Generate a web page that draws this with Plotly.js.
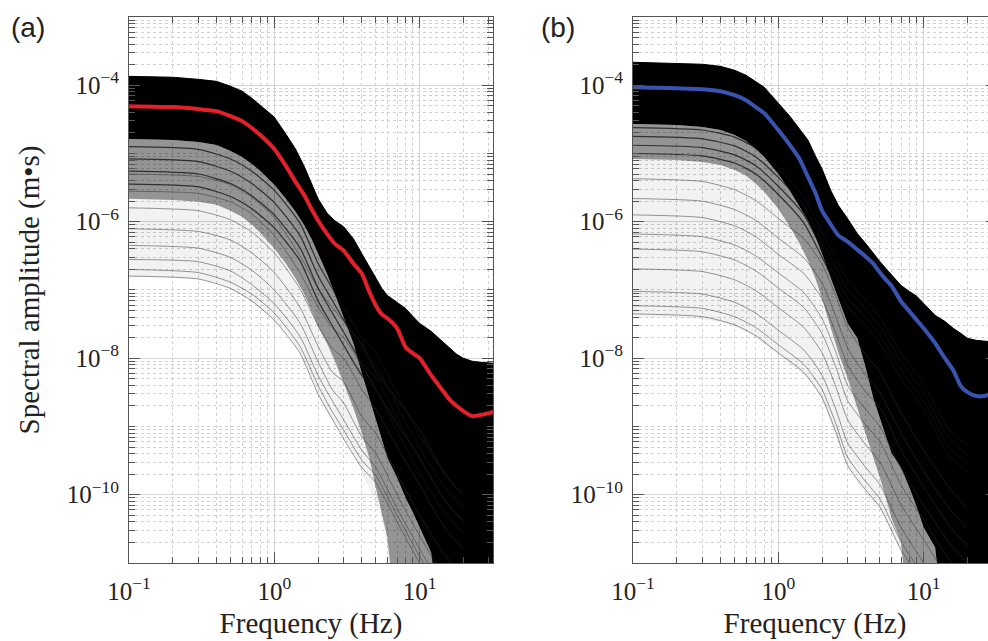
<!DOCTYPE html>
<html>
<head>
<meta charset="utf-8">
<script src="https://cdn.plot.ly/plotly-3.0.1.min.js"></script>
<style>
  html, body { margin: 0; padding: 0; background: #ffffff; overflow: hidden; }
  #chart { width: 1000px; height: 641px; }
</style>
</head>
<body>
<div id="chart"></div>
<script>
// ---------- shared frequency grids (Hz) ----------
const freq = [0.1, 0.2, 0.3, 0.4, 0.5, 0.6, 0.7, 0.8, 1.0, 1.2, 1.4, 1.6, 1.8, 2.0, 2.3, 2.6, 3.0, 3.5, 4.0, 4.5, 5.0, 5.5, 6.0, 7.0, 8.0, 9.0, 10, 12, 14, 16, 18, 20, 23, 26, 30, 32];
const fLine = [0.1, 0.3, 0.5, 0.7, 1, 1.5, 2, 2.5, 3, 4, 5, 7, 10, 15, 20];

// ---------- panel (a) ----------
const aMean   = [4.93e-5, 4.78e-5, 4.47e-5, 4.17e-5, 3.52e-5, 2.98e-5, 2.36e-5, 1.86e-5, 1.16e-5, 6.58e-6, 3.84e-6, 2.48e-6, 1.55e-6, 1.04e-6, 6.68e-7, 4.78e-7, 3.78e-7, 2.44e-7, 1.74e-7, 9.51e-8, 5.94e-8, 4.39e-8, 3.84e-8, 2.74e-8, 1.45e-8, 1.18e-8, 1.00e-8, 5.65e-9, 3.65e-9, 2.52e-9, 1.99e-9, 1.68e-9, 1.42e-9, 1.47e-9, 1.57e-9, 1.63e-9];
const aUpper  = [1.35e-4, 1.31e-4, 1.22e-4, 1.14e-4, 9.66e-5, 8.17e-5, 6.46e-5, 5.11e-5, 3.41e-5, 1.93e-5, 1.16e-5, 6.58e-6, 3.59e-6, 2.17e-6, 1.35e-6, 1.04e-6, 8.45e-7, 5.65e-7, 3.41e-7, 2.20e-7, 1.47e-7, 1.05e-7, 8.32e-8, 6.58e-8, 5.37e-8, 4.10e-8, 3.24e-8, 2.48e-8, 1.83e-8, 1.40e-8, 1.14e-8, 1.00e-8, 9.04e-9, 8.75e-9, 8.45e-9, 8.45e-9];
const aDense  = [1.63e-5, 1.57e-5, 1.47e-5, 1.33e-5, 1.09e-5, 8.89e-6, 7.03e-6, 5.56e-6, 3.47e-6, 2.17e-6, 1.40e-6, 9.04e-7, 5.65e-7, 3.41e-7, 1.74e-7, 8.89e-8, 3.84e-8, 1.66e-8, 6.04e-9, 2.61e-9, 1.33e-9, 6.79e-10, 3.47e-10, 1.77e-10, 9.04e-11, 5.46e-11, 3.30e-11, 1.42e-11, 1e-12, 1e-12, 1e-12, 1e-12, 1e-12, 1e-12, 1e-12, 1e-12];
const aMid    = [2.17e-6, 2.09e-6, 1.96e-6, 1.77e-6, 1.45e-6, 1.18e-6, 9.04e-7, 6.90e-7, 4.04e-7, 2.44e-7, 1.47e-7, 8.89e-8, 5.02e-8, 2.93e-8, 1.66e-8, 9.35e-9, 4.32e-9, 1.86e-9, 8.04e-10, 3.47e-10, 1.26e-10, 5.46e-11, 2.35e-11, 1e-12, 1e-12, 1e-12, 1e-12, 1e-12, 1e-12, 1e-12, 1e-12, 1e-12, 1e-12, 1e-12, 1e-12, 1e-12];
const aLowest = [1.57e-7, 1.52e-7, 1.42e-7, 1.29e-7, 1.05e-7, 8.59e-8, 6.79e-8, 5.37e-8, 3.59e-8, 2.32e-8, 1.50e-8, 9.35e-9, 5.46e-9, 3.08e-9, 1.57e-9, 1.12e-9, 6.79e-10, 4.10e-10, 2.09e-10, 1.26e-10, 7.64e-11, 4.61e-11, 1.68e-11, 1e-12, 1e-12, 1e-12, 1e-12, 1e-12, 1e-12, 1e-12, 1e-12, 1e-12, 1e-12, 1e-12, 1e-12, 1e-12];
const aDark1 = [1.26e-5, 1.15e-5, 8.32e-6, 5.50e-6, 2.88e-6, 9.55e-7, 2.45e-7, 1.07e-7, 5.50e-8, 2.00e-8, 1.20e-8, 3.09e-9, 7.41e-10, 1.91e-10, 9.77e-11];
const aDark2 = [8.32e-6, 7.59e-6, 5.50e-6, 3.63e-6, 1.91e-6, 6.31e-7, 1.62e-7, 7.08e-8, 3.63e-8, 1.32e-8, 7.94e-9, 2.04e-9, 4.90e-10, 1.26e-10, 6.46e-11];
const aDark3 = [5.50e-6, 5.01e-6, 3.63e-6, 2.40e-6, 1.26e-6, 4.17e-7, 1.07e-7, 4.68e-8, 2.40e-8, 8.71e-9, 5.25e-9, 1.35e-9, 3.24e-10, 8.32e-11, 4.27e-11];
const aDark4 = [3.55e-6, 3.24e-6, 2.34e-6, 1.55e-6, 8.13e-7, 2.69e-7, 6.92e-8, 3.02e-8, 1.55e-8, 5.62e-9, 3.39e-9, 8.71e-10, 2.09e-10, 5.37e-11, 2.75e-11];
const aLine1 = [5.0e-6, 4.6e-6, 3.5e-6, 2.3e-6, 1.15e-6, 3.2e-7, 1.05e-7, 5.6e-8, 3.5e-8, 1.6e-8, 6.3e-9, 2.5e-9, 8.9e-10, 2.0e-10, 1.0e-10];
const aLine2 = [2.8e-6, 2.6e-6, 1.95e-6, 1.3e-6, 6.3e-7, 1.8e-7, 5.6e-8, 2.8e-8, 2.0e-8, 7.9e-9, 3.5e-9, 1.1e-9, 3.5e-10, 8e-11, 4e-11];
const aLine3 = [1.6e-6, 1.45e-6, 1.07e-6, 7.1e-7, 3.5e-7, 1.05e-7, 3.0e-8, 1.4e-8, 1.0e-8, 3.5e-9, 1.8e-9, 5.0e-10, 1.4e-10, 3.2e-11, 1.6e-11];
const aLine4 = [7.9e-7, 7.2e-7, 5.4e-7, 3.5e-7, 1.8e-7, 5.6e-8, 1.5e-8, 6.3e-9, 4.5e-9, 1.4e-9, 7.9e-10, 2.0e-10, 5.0e-11, 1.3e-11, 6e-12];
const aLine5 = [4.5e-7, 4.1e-7, 3.0e-7, 1.95e-7, 1.0e-7, 3.3e-8, 8.9e-9, 3.5e-9, 2.2e-9, 7.1e-10, 4.0e-10, 1.0e-10, 2.5e-11, 6e-12, 3e-12];
const aLine6 = [2.8e-7, 2.6e-7, 1.9e-7, 1.2e-7, 6.3e-8, 2.1e-8, 5.6e-9, 2.4e-9, 1.26e-9, 4.5e-10, 2.5e-10, 6.3e-11, 1.6e-11, 4e-12, 2e-12];
const aLine7 = [2.0e-7, 1.8e-7, 1.3e-7, 8.7e-8, 4.6e-8, 1.5e-8, 4.0e-9, 1.66e-9, 8.9e-10, 3.2e-10, 1.9e-10, 5.0e-11, 1.26e-11, 3e-12, 1.5e-12];
const aLine8 = [1.6e-7, 1.45e-7, 1.05e-7, 6.9e-8, 3.6e-8, 1.2e-8, 3.0e-9, 1.3e-9, 6.6e-10, 2.5e-10, 1.5e-10, 4.0e-11, 1.0e-11, 2.5e-12, 1.3e-12];

// ---------- panel (b) ----------
const bMean   = [9.35e-5, 9.04e-5, 8.75e-5, 8.17e-5, 7.14e-5, 6.04e-5, 4.78e-5, 3.90e-5, 2.20e-5, 1.33e-5, 8.32e-6, 4.54e-6, 2.65e-6, 1.45e-6, 9.04e-7, 6.25e-7, 5.11e-7, 3.90e-7, 3.08e-7, 2.44e-7, 1.80e-7, 1.42e-7, 1.16e-7, 6.79e-8, 4.85e-8, 3.59e-8, 2.74e-8, 1.66e-8, 1.00e-8, 6.68e-9, 3.90e-9, 3.19e-9, 2.79e-9, 2.79e-9, 3.08e-9, 3.08e-9];
const bUpper  = [2.17e-4, 2.09e-4, 2.03e-4, 1.89e-4, 1.66e-4, 1.40e-4, 1.14e-4, 9.35e-5, 5.46e-5, 3.52e-5, 2.28e-5, 1.57e-5, 9.20e-6, 5.94e-6, 2.84e-6, 1.71e-6, 1.11e-6, 6.68e-7, 4.78e-7, 3.41e-7, 2.61e-7, 2.06e-7, 1.68e-7, 1.16e-7, 9.51e-8, 8.04e-8, 6.35e-8, 4.25e-8, 3.47e-8, 2.74e-8, 2.32e-8, 1.96e-8, 1.83e-8, 1.77e-8, 1.71e-8, 1.71e-8];
const bDense  = [2.70e-5, 2.61e-5, 2.44e-5, 2.20e-5, 1.86e-5, 1.52e-5, 1.16e-5, 8.89e-6, 5.02e-6, 2.84e-6, 1.66e-6, 1.04e-6, 6.04e-7, 3.41e-7, 1.47e-7, 7.52e-8, 3.24e-8, 1.96e-8, 7.14e-9, 2.61e-9, 1.33e-9, 6.79e-10, 4.10e-10, 2.48e-10, 1.26e-10, 6.46e-11, 3.30e-11, 1.68e-11, 1e-12, 1e-12, 1e-12, 1e-12, 1e-12, 1e-12, 1e-12, 1e-12];
const bMid    = [8.32e-6, 8.04e-6, 7.52e-6, 6.79e-6, 5.74e-6, 4.70e-6, 3.59e-6, 2.74e-6, 1.55e-6, 8.45e-7, 4.78e-7, 2.70e-7, 1.47e-7, 7.52e-8, 2.74e-8, 1.18e-8, 5.11e-9, 1.86e-9, 8.04e-10, 3.47e-10, 1.77e-10, 9.04e-11, 4.61e-11, 1.99e-11, 1e-12, 1e-12, 1e-12, 1e-12, 1e-12, 1e-12, 1e-12, 1e-12, 1e-12, 1e-12, 1e-12, 1e-12];
const bLowest = [4.10e-8, 3.97e-8, 3.71e-8, 3.36e-8, 2.84e-8, 2.40e-8, 1.96e-8, 1.60e-8, 1.11e-8, 8.17e-9, 6.25e-9, 5.11e-9, 3.65e-9, 2.44e-9, 1.12e-9, 5.74e-10, 2.48e-10, 1.50e-10, 1.07e-10, 8.17e-11, 6.04e-11, 4.61e-11, 2.79e-11, 1.42e-11, 1e-12, 1e-12, 1e-12, 1e-12, 1e-12, 1e-12, 1e-12, 1e-12, 1e-12, 1e-12, 1e-12, 1e-12];
const bDark1 = [2.40e-5, 2.21e-5, 1.74e-5, 1.20e-5, 6.03e-6, 2.29e-6, 7.24e-7, 2.82e-7, 1.38e-7, 7.08e-8, 3.98e-8, 1.20e-8, 4.27e-9, 8.91e-10, 5.25e-10];
const bDark2 = [1.78e-5, 1.64e-5, 1.29e-5, 8.91e-6, 4.47e-6, 1.70e-6, 5.37e-7, 2.09e-7, 1.02e-7, 5.25e-8, 2.95e-8, 8.91e-9, 3.16e-9, 6.61e-10, 3.89e-10];
const bDark3 = [1.32e-5, 1.22e-5, 9.55e-6, 6.61e-6, 3.31e-6, 1.26e-6, 3.98e-7, 1.55e-7, 7.59e-8, 3.89e-8, 2.19e-8, 6.61e-9, 2.34e-9, 4.90e-10, 2.88e-10];
const bDark4 = [1.00e-5, 9.23e-6, 7.24e-6, 5.01e-6, 2.51e-6, 9.55e-7, 3.02e-7, 1.17e-7, 5.75e-8, 2.95e-8, 1.66e-8, 5.01e-9, 1.78e-9, 3.72e-10, 2.19e-10];
const bLine1 = [4.27e-6, 3.89e-6, 2.95e-6, 2.04e-6, 1.12e-6, 5.62e-7, 2.40e-7, 7.94e-8, 2.82e-8, 1.12e-8, 6.31e-9, 1.58e-9, 4.47e-10, 1.26e-10, 6.31e-11];
const bLine2 = [2.19e-6, 2.00e-6, 1.51e-6, 1.05e-6, 5.75e-7, 2.95e-7, 1.26e-7, 3.98e-8, 1.41e-8, 5.62e-9, 3.16e-9, 7.94e-10, 2.24e-10, 6.31e-11, 3.16e-11];
const bLine3 = [1.26e-6, 1.15e-6, 8.71e-7, 6.03e-7, 3.31e-7, 1.74e-7, 7.41e-8, 2.24e-8, 7.94e-9, 3.16e-9, 1.91e-9, 4.47e-10, 1.32e-10, 3.55e-11, 1.78e-11];
const bLine4 = [6.61e-7, 6.03e-7, 4.57e-7, 3.16e-7, 1.78e-7, 9.12e-8, 3.80e-8, 1.20e-8, 3.98e-9, 1.78e-9, 1.00e-9, 2.40e-10, 7.08e-11, 2.00e-11, 1.00e-11];
const bLine5 = [3.98e-7, 3.63e-7, 2.75e-7, 1.91e-7, 1.07e-7, 5.50e-8, 2.29e-8, 7.24e-9, 2.40e-9, 1.05e-9, 6.03e-10, 1.38e-10, 4.27e-11, 1.12e-11, 5.62e-12];
const bLine6 = [2.04e-7, 1.86e-7, 1.41e-7, 9.77e-8, 5.50e-8, 2.82e-8, 1.20e-8, 3.72e-9, 1.26e-9, 5.37e-10, 3.02e-10, 7.08e-11, 2.19e-11, 5.75e-12, 3.16e-12];
const bLine7 = [9.55e-8, 8.71e-8, 6.61e-8, 4.57e-8, 2.57e-8, 1.32e-8, 5.62e-9, 1.74e-9, 5.75e-10, 2.51e-10, 1.41e-10, 3.31e-11, 1.00e-11, 2.51e-12, 1.26e-12];
const bLine8 = [5.89e-8, 5.37e-8, 4.07e-8, 2.82e-8, 1.58e-8, 8.13e-9, 3.47e-9, 1.07e-9, 3.55e-10, 1.55e-10, 8.71e-11, 2.04e-11, 6.31e-12, 1.58e-12, 7.94e-13];
const bLine9 = [4.47e-8, 4.07e-8, 3.09e-8, 2.14e-8, 1.20e-8, 6.17e-9, 2.63e-9, 8.13e-10, 2.69e-10, 1.17e-10, 6.61e-11, 1.55e-11, 5.01e-12, 1.26e-12, 6.31e-13];

// ---------- ticks / labels ----------
const xTickVals = [0.1, 1, 10];
const xTickText = ['10<sup>−1</sup>', '10<sup>0</sup>', '10<sup>1</sup>'];
const yTickVals = [1e-10, 1e-8, 1e-6, 1e-4];
const yTickText = ['10<sup>−10</sup>', '10<sup>−8</sup>', '10<sup>−6</sup>', '10<sup>−4</sup>'];
const xMinorVals = [0.2, 0.3, 0.4, 0.5, 0.6, 0.7, 0.8, 0.9, 2, 3, 4, 5, 6, 7, 8, 9, 20, 30];
const yMinorVals = [];
for (let d = -11; d <= -4; d++) {
  const base = Math.pow(10, d);
  if (d % 2 !== 0) yMinorVals.push(base);
  for (let k = 2; k <= 9; k++) yMinorVals.push(k * base);
}
yMinorVals.push(1e-3);

const panelTitles = ['(a)', '(b)'];
const xTitle = 'Frequency (Hz)';
const yTitle = 'Spectral amplitude (m•s)';
const meanColors = ['#e4202a', '#3953b0'];

// ---------- traces ----------
function panelTraces(xa, ya, lowest, mid, dense, upper, darkLines, lines, mean, meanColor) {
  const t = [];
  const hidden = {width: 0, color: 'rgba(0,0,0,0)'};
  t.push({x: freq, y: lowest, xaxis: xa, yaxis: ya, mode: 'lines', line: hidden, hoverinfo: 'skip'});
  t.push({x: freq, y: mid, xaxis: xa, yaxis: ya, mode: 'lines', line: hidden, fill: 'tonexty', fillcolor: 'rgba(0,0,0,0.05)', hoverinfo: 'skip'});
  t.push({x: freq, y: dense, xaxis: xa, yaxis: ya, mode: 'lines', line: hidden, fill: 'tonexty', fillcolor: 'rgba(0,0,0,0.42)', hoverinfo: 'skip'});
  t.push({x: freq, y: upper, xaxis: xa, yaxis: ya, mode: 'lines', line: {width: 1, color: '#000'}, fill: 'tonexty', fillcolor: '#000000', hoverinfo: 'skip'});
  lines.forEach(function (ln) {
    t.push({x: fLine, y: ln, xaxis: xa, yaxis: ya, mode: 'lines', line: {width: 1, color: 'rgba(50,50,50,0.5)', shape: 'spline', smoothing: 0.6}, hoverinfo: 'skip'});
  });
  darkLines.forEach(function (ln) {
    t.push({x: fLine, y: ln, xaxis: xa, yaxis: ya, mode: 'lines', line: {width: 1.2, color: 'rgba(15,15,15,0.75)', shape: 'spline', smoothing: 0.6}, hoverinfo: 'skip'});
  });
  t.push({x: freq, y: mean, xaxis: xa, yaxis: ya, mode: 'lines', line: {width: 4, color: meanColor, shape: 'spline', smoothing: 0.5}, hoverinfo: 'skip'});
  return t;
}

const data = [].concat(
  panelTraces('x', 'y', aLowest, aMid, aDense, aUpper, [aDark1, aDark2, aDark3, aDark4],
              [aLine1, aLine2, aLine3, aLine4, aLine5, aLine6, aLine7, aLine8], aMean, meanColors[0]),
  panelTraces('x2', 'y2', bLowest, bMid, bDense, bUpper, [bDark1, bDark2, bDark3, bDark4],
              [bLine1, bLine2, bLine3, bLine4, bLine5, bLine6, bLine7, bLine8, bLine9], bMean, meanColors[1])
);

// ---------- axes ----------
const tickFont = {family: 'Liberation Serif, Times New Roman, serif', size: 25, color: '#222'};
const titleFont = {family: 'Liberation Serif, Times New Roman, serif', size: 29, color: '#222'};

function xAxis(domain, anchor) {
  return {
    type: 'log', range: [-1, 1.505], domain: domain, anchor: anchor,
    showline: true, linecolor: '#555', linewidth: 1, mirror: 'allticks',
    ticks: 'inside', ticklen: 11, tickcolor: '#555', tickwidth: 1,
    tickmode: 'array', tickvals: xTickVals, ticktext: xTickText,
    tickfont: tickFont, ticklabelstandoff: 6,
    showgrid: true, gridcolor: '#d4d4d4', gridwidth: 1,
    minor: {tickmode: 'array', tickvals: xMinorVals, ticks: 'inside', ticklen: 6, tickcolor: '#555',
            showgrid: true, gridcolor: '#d0d0d0', griddash: 'dot', gridwidth: 1},
    zeroline: false, automargin: false,
    title: {text: xTitle, font: titleFont, standoff: 8}
  };
}
function yAxis(anchor, withTitle) {
  const ax = {
    type: 'log', range: [-11, -3], domain: [0.1217, 0.9735], anchor: anchor,
    showline: true, linecolor: '#555', linewidth: 1, mirror: 'allticks',
    ticks: 'inside', ticklen: 11, tickcolor: '#555', tickwidth: 1,
    tickmode: 'array', tickvals: yTickVals, ticktext: yTickText,
    tickfont: tickFont, ticklabelstandoff: 4,
    showgrid: true, gridcolor: '#d4d4d4', gridwidth: 1,
    minor: {tickmode: 'array', tickvals: yMinorVals, ticks: 'inside', ticklen: 6, tickcolor: '#555',
            showgrid: true, gridcolor: '#d0d0d0', griddash: 'dot', gridwidth: 1},
    zeroline: false, automargin: false
  };
  if (withTitle) ax.title = {text: yTitle, font: titleFont, standoff: 18};
  return ax;
}

const layout = {
  width: 1000, height: 641,
  margin: {l: 0, r: 0, t: 0, b: 0},
  paper_bgcolor: '#ffffff', plot_bgcolor: '#ffffff',
  showlegend: false,
  xaxis: xAxis([0.129, 0.493], 'y'),
  yaxis: yAxis('x', true),
  xaxis2: xAxis([0.633, 0.997], 'y2'),
  yaxis2: yAxis('x2', false),
  annotations: [
    {text: panelTitles[0], xref: 'paper', yref: 'paper', x: 0.009, y: 0.957, xanchor: 'left', yanchor: 'middle', showarrow: false,
     font: {family: 'Liberation Sans, Arial, sans-serif', size: 28, color: '#222'}},
    {text: panelTitles[1], xref: 'paper', yref: 'paper', x: 0.539, y: 0.957, xanchor: 'left', yanchor: 'middle', showarrow: false,
     font: {family: 'Liberation Sans, Arial, sans-serif', size: 28, color: '#222'}}
  ]
};

Plotly.newPlot('chart', data, layout, {staticPlot: true, displayModeBar: false});
</script>
</body>
</html>
